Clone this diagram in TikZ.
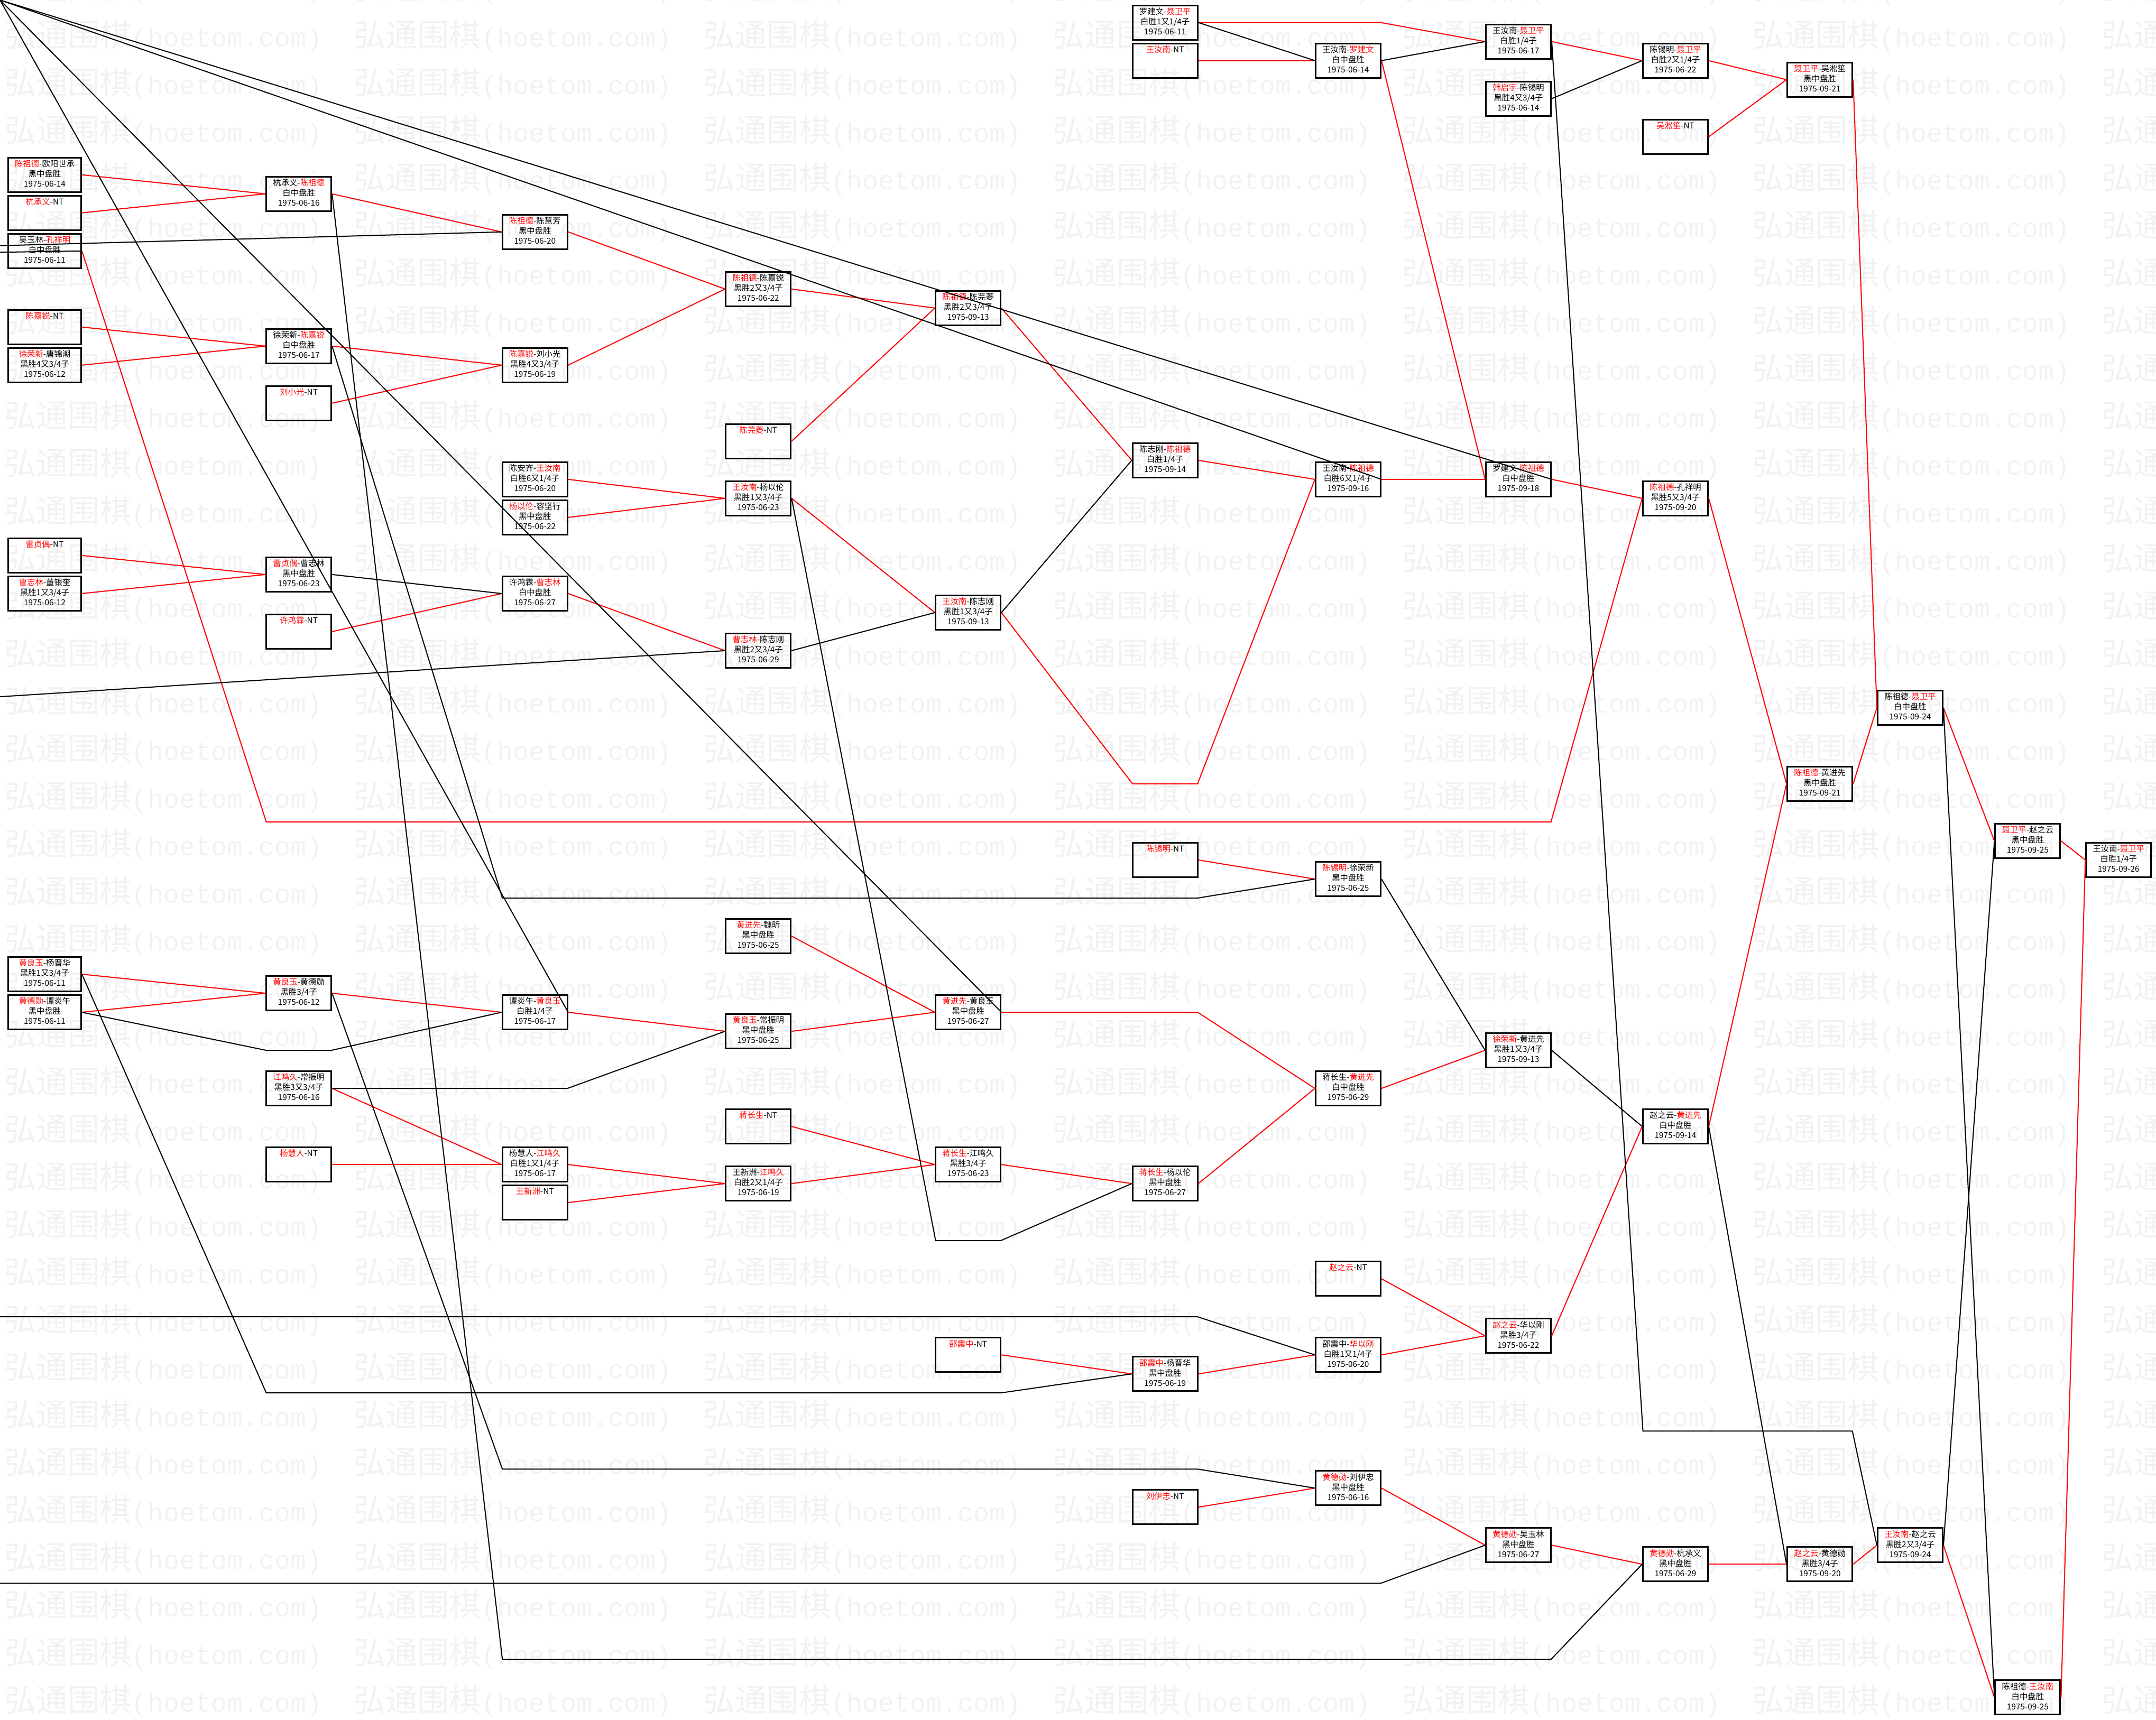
\documentclass[tikz,border=0pt]{standalone}
\usepackage{fontspec}
\setmainfont{Noto Sans CJK SC}
\newfontfamily\wmlat{Liberation Mono}

\newcommand{\R}[1]{\textcolor{red}{#1}}
\newcommand{\gm}[3]{#1\strut\\#2\strut\\#3\strut}
\newcommand{\nt}[1]{\R{#1}-NT\strut\\\strut\\\strut}
\newcommand{\rw}[1]{16.4+13.845*#1}
% column centres
\def\xA{32.5}\def\xB{217.3}\def\xC{389}\def\xD{551.5}\def\xE{704.1}
\def\xF{847.3}\def\xG{980.5}\def\xH{1104.3}\def\xI{1218.5}\def\xJ{1323.5}
\def\xK{1389.2}\def\xL{1474.7}\def\xM{1540.8}
\def\hw{23.65}

\tikzset{
  game/.style={draw, line width=1.6pt, minimum width=2.365cm, minimum height=1.25cm,
    inner sep=0pt, align=center, font=\fontsize{8.4}{10.4}\selectfont},
  gameA/.style={game, minimum width=2.65cm},
  win/.style={red, line width=1.1pt},
  lose/.style={black, line width=1.1pt},
  wm/.style={anchor=base west, inner sep=0pt, text=black!5, font=\fontsize{32.9}{36}\selectfont}
}

\begin{document}
\begin{tikzpicture}[x=0.05cm,y=-0.05cm]
\useasboundingbox (0,0) rectangle (1568,1251);
\clip (0,0) rectangle (1568,1251);
% watermark
\foreach \r in {-1,...,35}
  \foreach \u in {0,...,6}
    \node[wm] at ({3.1+254.2*\u},{34.1+34.6*\r}) {弘通围棋{\wmlat\fontsize{27.4}{30}\selectfont (hoetom.com)}};

\coordinate (corner) at (0,0);
\coordinate (inC1) at (0,178.7);
\coordinate (outA3) at (0,183.5);
\coordinate (inD4) at (0,506.8);
\coordinate (inG6) at (0,{\rw{68}});
\coordinate (inH6) at (0,{\rw{82}});

% column A
\node[gameA] (A1) at (\xA,{\rw{8}}) {\gm{\R{陈祖德}-欧阳世承}{黑中盘胜}{1975-06-14}};
\node[gameA] (A2) at (\xA,{\rw{10}}) {\nt{杭承义}};
\node[gameA] (A3) at (\xA,{\rw{12}}) {\gm{吴玉林-\R{孔祥明}}{白中盘胜}{1975-06-11}};
\node[gameA] (A4) at (\xA,{\rw{16}}) {\nt{陈嘉锐}};
\node[gameA] (A5) at (\xA,{\rw{18}}) {\gm{\R{徐荣新}-唐锦潮}{黑胜4又3/4子}{1975-06-12}};
\node[gameA] (A6) at (\xA,{\rw{28}}) {\nt{雷贞偶}};
\node[gameA] (A7) at (\xA,{\rw{30}}) {\gm{\R{曹志林}-董银奎}{黑胜1又3/4子}{1975-06-12}};
\node[gameA] (A8) at (\xA,{\rw{50}}) {\gm{\R{黄良玉}-杨晋华}{黑胜1又3/4子}{1975-06-11}};
\node[gameA] (A9) at (\xA,{\rw{52}}) {\gm{\R{黄德勋}-谭炎午}{黑中盘胜}{1975-06-11}};
% column B
\node[game] (B1) at (\xB,{\rw{9}}) {\gm{杭承义-\R{陈祖德}}{白中盘胜}{1975-06-16}};
\node[game] (B2) at (\xB,{\rw{17}}) {\gm{徐荣新-\R{陈嘉锐}}{白中盘胜}{1975-06-17}};
\node[game] (B3) at (\xB,{\rw{20}}) {\nt{刘小光}};
\node[game] (B4) at (\xB,{\rw{29}}) {\gm{\R{雷贞偶}-曹志林}{黑中盘胜}{1975-06-23}};
\node[game] (B5) at (\xB,{\rw{32}}) {\nt{许鸿霖}};
\node[game] (B6) at (\xB,{\rw{51}}) {\gm{\R{黄良玉}-黄德勋}{黑胜3/4子}{1975-06-12}};
\node[game] (B7) at (\xB,{\rw{56}}) {\gm{\R{江鸣久}-常振明}{黑胜3又3/4子}{1975-06-16}};
\node[game] (B8) at (\xB,{\rw{60}}) {\nt{杨慧人}};
% column C
\node[game] (C1) at (\xC,{\rw{11}}) {\gm{\R{陈祖德}-陈慧芳}{黑中盘胜}{1975-06-20}};
\node[game] (C2) at (\xC,{\rw{18}}) {\gm{\R{陈嘉锐}-刘小光}{黑胜4又3/4子}{1975-06-19}};
\node[game] (C3) at (\xC,{\rw{24}}) {\gm{陈安齐-\R{王汝南}}{白胜6又1/4子}{1975-06-20}};
\node[game] (C4) at (\xC,{\rw{26}}) {\gm{\R{杨以伦}-容坚行}{黑中盘胜}{1975-06-22}};
\node[game] (C5) at (\xC,{\rw{30}}) {\gm{许鸿霖-\R{曹志林}}{白中盘胜}{1975-06-27}};
\node[game] (C6) at (\xC,{\rw{52}}) {\gm{谭炎午-\R{黄良玉}}{白胜1/4子}{1975-06-17}};
\node[game] (C7) at (\xC,{\rw{60}}) {\gm{杨慧人-\R{江鸣久}}{白胜1又1/4子}{1975-06-17}};
\node[game] (C8) at (\xC,{\rw{62}}) {\nt{王新洲}};
% column D
\node[game] (D1) at (\xD,{\rw{14}}) {\gm{\R{陈祖德}-陈嘉锐}{黑胜2又3/4子}{1975-06-22}};
\node[game] (D2) at (\xD,{\rw{22}}) {\nt{陈芫菱}};
\node[game] (D3) at (\xD,{\rw{25}}) {\gm{\R{王汝南}-杨以伦}{黑胜1又3/4子}{1975-06-23}};
\node[game] (D4) at (\xD,{\rw{33}}) {\gm{\R{曹志林}-陈志刚}{黑胜2又3/4子}{1975-06-29}};
\node[game] (D5) at (\xD,{\rw{48}}) {\gm{\R{黄进先}-魏昕}{黑中盘胜}{1975-06-25}};
\node[game] (D6) at (\xD,{\rw{53}}) {\gm{\R{黄良玉}-常振明}{黑中盘胜}{1975-06-25}};
\node[game] (D7) at (\xD,{\rw{58}}) {\nt{蒋长生}};
\node[game] (D8) at (\xD,{\rw{61}}) {\gm{王新洲-\R{江鸣久}}{白胜2又1/4子}{1975-06-19}};
% column E
\node[game] (E1) at (\xE,{\rw{15}}) {\gm{\R{陈祖德}-陈芫菱}{黑胜2又3/4子}{1975-09-13}};
\node[game] (E2) at (\xE,{\rw{31}}) {\gm{\R{王汝南}-陈志刚}{黑胜1又3/4子}{1975-09-13}};
\node[game] (E3) at (\xE,{\rw{52}}) {\gm{\R{黄进先}-黄良玉}{黑中盘胜}{1975-06-27}};
\node[game] (E4) at (\xE,{\rw{60}}) {\gm{\R{蒋长生}-江鸣久}{黑胜3/4子}{1975-06-23}};
\node[game] (E5) at (\xE,{\rw{70}}) {\nt{邵震中}};
% column F
\node[game] (F1) at (\xF,{\rw{0}}) {\gm{罗建文-\R{聂卫平}}{白胜1又1/4子}{1975-06-11}};
\node[game] (F2) at (\xF,{\rw{2}}) {\nt{王汝南}};
\node[game] (F3) at (\xF,{\rw{23}}) {\gm{陈志刚-\R{陈祖德}}{白胜1/4子}{1975-09-14}};
\node[game] (F4) at (\xF,{\rw{44}}) {\nt{陈锡明}};
\node[game] (F5) at (\xF,{\rw{61}}) {\gm{\R{蒋长生}-杨以伦}{黑中盘胜}{1975-06-27}};
\node[game] (F6) at (\xF,{\rw{71}}) {\gm{\R{邵震中}-杨晋华}{黑中盘胜}{1975-06-19}};
\node[game] (F7) at (\xF,{\rw{78}}) {\nt{刘伊忠}};
% column G
\node[game] (G1) at (\xG,{\rw{2}}) {\gm{王汝南-\R{罗建文}}{白中盘胜}{1975-06-14}};
\node[game] (G2) at (\xG,{\rw{24}}) {\gm{王汝南-\R{陈祖德}}{白胜6又1/4子}{1975-09-16}};
\node[game] (G3) at (\xG,{\rw{45}}) {\gm{\R{陈锡明}-徐荣新}{黑中盘胜}{1975-06-25}};
\node[game] (G4) at (\xG,{\rw{56}}) {\gm{蒋长生-\R{黄进先}}{白中盘胜}{1975-06-29}};
\node[game] (G5) at (\xG,{\rw{66}}) {\nt{赵之云}};
\node[game] (G6) at (\xG,{\rw{70}}) {\gm{邵震中-\R{华以刚}}{白胜1又1/4子}{1975-06-20}};
\node[game] (G7) at (\xG,{\rw{77}}) {\gm{\R{黄德勋}-刘伊忠}{黑中盘胜}{1975-06-16}};
% column H
\node[game] (H1) at (\xH,{\rw{1}}) {\gm{王汝南-\R{聂卫平}}{白胜1/4子}{1975-06-17}};
\node[game] (H2) at (\xH,{\rw{4}}) {\gm{\R{韩启宇}-陈锡明}{黑胜4又3/4子}{1975-06-14}};
\node[game] (H3) at (\xH,{\rw{24}}) {\gm{罗建文-\R{陈祖德}}{白中盘胜}{1975-09-18}};
\node[game] (H4) at (\xH,{\rw{54}}) {\gm{\R{徐荣新}-黄进先}{黑胜1又3/4子}{1975-09-13}};
\node[game] (H5) at (\xH,{\rw{69}}) {\gm{\R{赵之云}-华以刚}{黑胜3/4子}{1975-06-22}};
\node[game] (H6) at (\xH,{\rw{80}}) {\gm{\R{黄德勋}-吴玉林}{黑中盘胜}{1975-06-27}};
% column I
\node[game] (I1) at (\xI,{\rw{2}}) {\gm{陈锡明-\R{聂卫平}}{白胜2又1/4子}{1975-06-22}};
\node[game] (I2) at (\xI,{\rw{6}}) {\nt{吴淞笙}};
\node[game] (I3) at (\xI,{\rw{25}}) {\gm{\R{陈祖德}-孔祥明}{黑胜5又3/4子}{1975-09-20}};
\node[game] (I4) at (\xI,{\rw{58}}) {\gm{赵之云-\R{黄进先}}{白中盘胜}{1975-09-14}};
\node[game] (I5) at (\xI,{\rw{81}}) {\gm{\R{黄德勋}-杭承义}{黑中盘胜}{1975-06-29}};
% columns J to M
\node[game] (J1) at (\xJ,{\rw{3}}) {\gm{\R{聂卫平}-吴淞笙}{黑中盘胜}{1975-09-21}};
\node[game] (J2) at (\xJ,{\rw{40}}) {\gm{\R{陈祖德}-黄进先}{黑中盘胜}{1975-09-21}};
\node[game] (J3) at (\xJ,{\rw{81}}) {\gm{\R{赵之云}-黄德勋}{黑胜3/4子}{1975-09-20}};
\node[game] (K1) at (\xK,{\rw{36}}) {\gm{陈祖德-\R{聂卫平}}{白中盘胜}{1975-09-24}};
\node[game] (K2) at (\xK,{\rw{80}}) {\gm{\R{王汝南}-赵之云}{黑胜2又3/4子}{1975-09-24}};
\node[game] (L1) at (\xL,{\rw{43}}) {\gm{\R{聂卫平}-赵之云}{黑中盘胜}{1975-09-25}};
\node[game] (L2) at (\xL,{\rw{88}}) {\gm{陈祖德-\R{王汝南}}{白中盘胜}{1975-09-25}};
\node[game] (M1) at (\xM,{\rw{44}}) {\gm{王汝南-\R{聂卫平}}{白胜1/4子}{1975-09-26}};

% winners
\foreach \a/\b in {A1/B1,A2/B1,A4/B2,A5/B2,A6/B4,A7/B4,A8/B6,A9/B6,B1/C1,B2/C2,B3/C2,
    B5/C5,B6/C6,B7/C7,B8/C7,C1/D1,C2/D1,C3/D3,C4/D3,C5/D4,C6/D6,C7/D8,C8/D8,D1/E1,
    D2/E1,D3/E2,D5/E3,D6/E3,D7/E4,D8/E4,E1/F3,E4/F5,E5/F6,F2/G1,F3/G2,F4/G3,F5/G4,
    F6/G6,F7/G7,G1/H3,G2/H3,G4/H4,G5/H5,G6/H5,G7/H6,H1/I1,H3/I3,H5/I4,H6/I5,I1/J1,
    I2/J1,I3/J2,I4/J2,I5/J3,J1/K1,J2/K1,J3/K2,K1/L1,K2/L2,L1/M1,L2/M1}
  \draw[win] (\a.east) -- (\b.west);
\draw[win] (A3.east) -- ({\xB-\hw},{\rw{42}}) -- ({\xH+\hw},{\rw{42}}) -- (I3.west);
\draw[win] (E2.east) -- ({\xF-\hw},{\rw{40}}) -- ({\xF+\hw},{\rw{40}}) -- (G2.west);
\draw[win] (E3.east) -- ({\xF-\hw},{\rw{52}}) -- ({\xF+\hw},{\rw{52}}) -- (G4.west);
\draw[win] (F1.east) -- ({\xG-\hw},{\rw{0}}) -- ({\xG+\hw},{\rw{0}}) -- (H1.west);

% losers
\foreach \a/\b in {B4/C5,D4/E2,E2/F3,F1/G1,G1/H1,G3/H4,H2/I1,H4/I4,I4/J3,K1/L2,K2/L1}
  \draw[lose] (\a.east) -- (\b.west);
\draw[lose] (A8.east) -- ({\xB-\hw},{\rw{72}}) -- ({\xE+\hw},{\rw{72}}) -- (F6.west);
\draw[lose] (A9.east) -- ({\xB-\hw},{\rw{54}}) -- ({\xB+\hw},{\rw{54}}) -- (C6.west);
\draw[lose] (B1.east) -- ({\xC-\hw},{\rw{86}}) -- ({\xH+\hw},{\rw{86}}) -- (I5.west);
\draw[lose] (B2.east) -- ({\xC-\hw},{\rw{46}}) -- ({\xF+\hw},{\rw{46}}) -- (G3.west);
\draw[lose] (B6.east) -- ({\xC-\hw},{\rw{76}}) -- ({\xF+\hw},{\rw{76}}) -- (G7.west);
\draw[lose] (B7.east) -- ({\xC-\hw},{\rw{56}}) -- ({\xC+\hw},{\rw{56}}) -- (D6.west);
\draw[lose] (D3.east) -- ({\xE-\hw},{\rw{64}}) -- ({\xE+\hw},{\rw{64}}) -- (F5.west);
\draw[lose] (H1.east) -- ({\xI-\hw},{\rw{74}}) -- ({\xJ+\hw},{\rw{74}}) -- (K2.west);
% lines that leave the sheet
\foreach \a in {C6,E3,G2,H3}
  \draw[lose] (corner) -- (\a.east);
\draw[lose] (inC1) -- (C1.west);
\draw[lose] (A3.east) -- (outA3);
\draw[lose] (inD4) -- (D4.west);
\draw[lose] (inG6) -- ({\xF+\hw},{\rw{68}}) -- (G6.west);
\draw[lose] (inH6) -- ({\xG+\hw},{\rw{82}}) -- (H6.west);
\end{tikzpicture}
\end{document}
